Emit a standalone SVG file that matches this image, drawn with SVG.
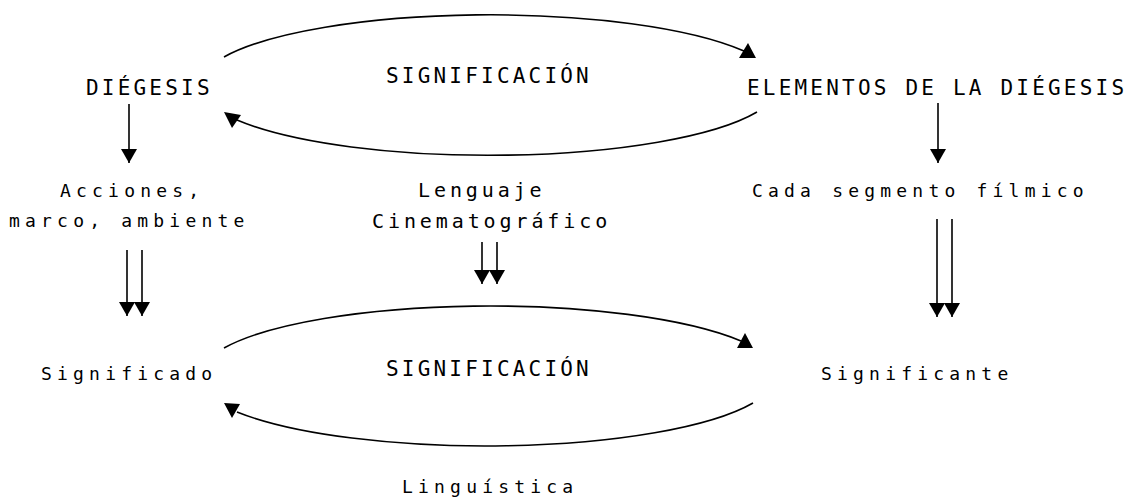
<svg xmlns="http://www.w3.org/2000/svg" width="1132" height="501" viewBox="0 0 1132 501">
  <style>
    .up { font-family: "DejaVu Sans Mono", "Liberation Mono", monospace; font-size: 21px; letter-spacing: 3.2px; fill: #000; }
    .lo { font-family: "DejaVu Sans Mono", "Liberation Mono", monospace; font-size: 18px; letter-spacing: 5.2px; fill: #000; }
    .lc { font-family: "DejaVu Sans Mono", "Liberation Mono", monospace; font-size: 20px; letter-spacing: 3.9px; fill: #000; }
    .ln { stroke: #000; stroke-width: 1.6; fill: none; }
    .hd { fill: #000; stroke: none; }
  </style>
  <defs>
    <marker id="ah" viewBox="0 0 14 16" refX="14" refY="8" markerWidth="14" markerHeight="16" markerUnits="userSpaceOnUse" orient="auto">
      <path d="M0,0 L14,8 L0,16 z" fill="#000"/>
    </marker>
  </defs>

  <rect width="1132" height="501" fill="#fff"/>

  <g id="connectors">
    <!-- top cycle -->
    <path class="ln" d="M224,57 A290,70 0 0,1 744,51"/>
    <polygon class="hd" points="748,43 739,58 756,58"/>
    <path class="ln" d="M757,112 A290,70 0 0,1 237,120"/>
    <polygon class="hd" points="224,112 241,115 232,128"/>
    <!-- bottom cycle -->
    <path class="ln" d="M224,348 A290,70 0 0,1 741,341"/>
    <polygon class="hd" points="745,333 737,348 753,348"/>
    <path class="ln" d="M753,403 A290,70 0 0,1 237,412"/>
    <polygon class="hd" points="224,403 240,404 232,418"/>
    <!-- single arrows -->
    <line class="ln" x1="129" y1="104" x2="129" y2="163" marker-end="url(#ah)"/>
    <line class="ln" x1="938" y1="103" x2="938" y2="163" marker-end="url(#ah)"/>
    <!-- double arrows -->
    <line class="ln" x1="127" y1="250" x2="127" y2="316" marker-end="url(#ah)"/>
    <line class="ln" x1="142" y1="250" x2="142" y2="316" marker-end="url(#ah)"/>
    <line class="ln" x1="482" y1="242" x2="482" y2="284" marker-end="url(#ah)"/>
    <line class="ln" x1="497" y1="242" x2="497" y2="284" marker-end="url(#ah)"/>
    <line class="ln" x1="937" y1="219" x2="937" y2="317" marker-end="url(#ah)"/>
    <line class="ln" x1="952" y1="219" x2="952" y2="317" marker-end="url(#ah)"/>
  </g>

  <g id="diegesis"><text class="up" x="86" y="95">DIÉGESIS</text></g>
  <g id="significacion-top"><text class="up" x="386" y="83">SIGNIFICACIÓN</text></g>
  <g id="elementos"><text class="up" x="747" y="95">ELEMENTOS DE LA DIÉGESIS</text></g>
  <g id="acciones">
    <text class="lo" x="60" y="197">Acciones,</text>
    <text class="lo" x="9" y="227">marco, ambiente</text>
  </g>
  <g id="lenguaje">
    <text class="lc" x="418" y="197">Lenguaje</text>
    <text class="lc" x="372" y="228">Cinematográfico</text>
  </g>
  <g id="segmento"><text class="lo" x="752" y="197">Cada segmento fílmico</text></g>
  <g id="significado"><text class="lo" x="41" y="380">Significado</text></g>
  <g id="significacion-bottom"><text class="up" x="386" y="376">SIGNIFICACIÓN</text></g>
  <g id="significante"><text class="lo" x="821" y="380">Significante</text></g>
  <g id="linguistica"><text class="lo" x="402" y="493">Linguística</text></g>
</svg>
